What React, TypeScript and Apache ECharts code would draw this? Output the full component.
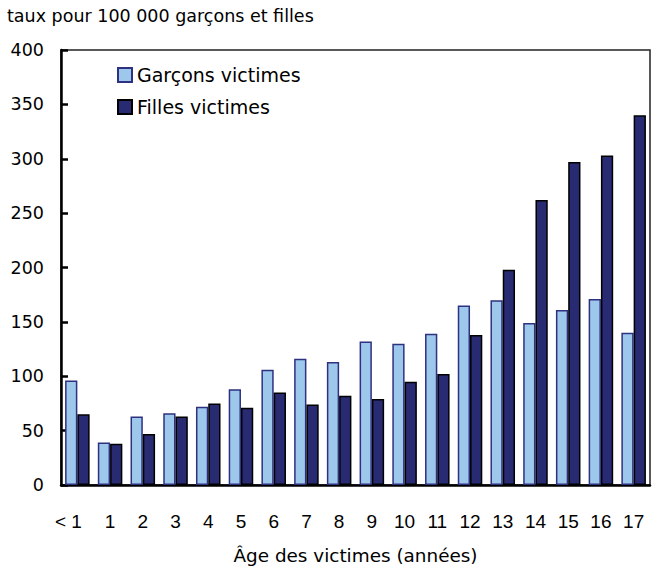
import React, { useEffect, useRef } from "react";
import * as echarts from "echarts";

const categories = ["< 1", "1", "2", "3", "4", "5", "6", "7", "8", "9", "10", "11", "12", "13", "14", "15", "16", "17"];
const garcons = [96, 39, 63, 66, 72, 88, 106, 116, 113, 132, 130, 139, 165, 170, 149, 161, 171, 140];
const filles = [65, 38, 47, 63, 75, 71, 85, 74, 82, 79, 95, 102, 138, 198, 262, 297, 303, 340];
const yTicks = { min: 0, max: 400, interval: 50 };

const SANS = "Liberation Sans, Arial, Helvetica, sans-serif";
const WIDE = "DejaVu Sans, Liberation Sans, Arial, sans-serif";

export default function App() {
  const ref = useRef<HTMLDivElement>(null);
  useEffect(() => {
    if (!ref.current) return;
    const chart = echarts.init(ref.current, null, { renderer: "svg" });
    chart.setOption({
      animation: false,
      backgroundColor: "#ffffff",
      textStyle: { fontFamily: SANS, color: "#000" },
      title: {
        text: "taux pour 100 000 garçons et filles",
        left: 7,
        top: 7,
        padding: 0,
        textStyle: { fontFamily: WIDE, fontSize: 17.5, fontWeight: "normal", color: "#000" },
      },
      legend: {
        orient: "vertical",
        left: 117,
        top: 65,
        padding: 0,
        itemWidth: 14,
        itemHeight: 14,
        itemGap: 12,
        icon: "rect",
        textStyle: { fontFamily: WIDE, fontSize: 19, lineHeight: 20, color: "#000" },
        data: ["Garçons victimes", "Filles victimes"],
      },
      grid: {
        left: 61,
        right: 5,
        top: 50,
        bottom: 88,
        show: true,
        borderColor: "#222",
        borderWidth: 1.5,
      },
      xAxis: {
        type: "category",
        data: categories,
        name: "Âge des victimes (années)",
        nameLocation: "middle",
        nameGap: 61,
        nameTextStyle: { fontFamily: WIDE, fontSize: 18.4, color: "#000" },
        axisLine: { lineStyle: { color: "#000", width: 2.5 } },
        axisTick: { show: false },
        axisLabel: {
          interval: 0,
          hideOverlap: false,
          fontFamily: SANS,
          fontSize: 19,
          color: "#000",
          margin: 27,
          formatter: (v: string, i: number) => (i === 0 ? "{lt|" + v + "}" : v),
          rich: { lt: { fontFamily: SANS, fontSize: 19, color: "#000", padding: [0, 18, 0, 0] } },
        },
      },
      yAxis: {
        type: "value",
        min: yTicks.min,
        max: yTicks.max,
        interval: yTicks.interval,
        axisLine: { show: true, lineStyle: { color: "#000", width: 2.5 } },
        axisTick: { show: true, inside: true, length: 7, lineStyle: { color: "#000", width: 2.5 } },
        axisLabel: { fontFamily: WIDE, fontSize: 17.5, color: "#000", margin: 17 },
        splitLine: { show: false },
      },
      series: [
        {
          name: "Garçons victimes",
          type: "bar",
          data: garcons,
          barGap: "0%",
          barCategoryGap: "25%",
          itemStyle: { color: "#9dc8eb", borderColor: "#2e3180", borderWidth: 1.5 },
        },
        {
          name: "Filles victimes",
          type: "bar",
          data: filles,
          itemStyle: { color: "#282a72", borderColor: "#000", borderWidth: 1.5 },
        },
      ],
    });
    return () => chart.dispose();
  }, []);
  return <div ref={ref} style={{ width: 655, height: 573, position: "absolute", left: 0, top: 0 }} />;
}
